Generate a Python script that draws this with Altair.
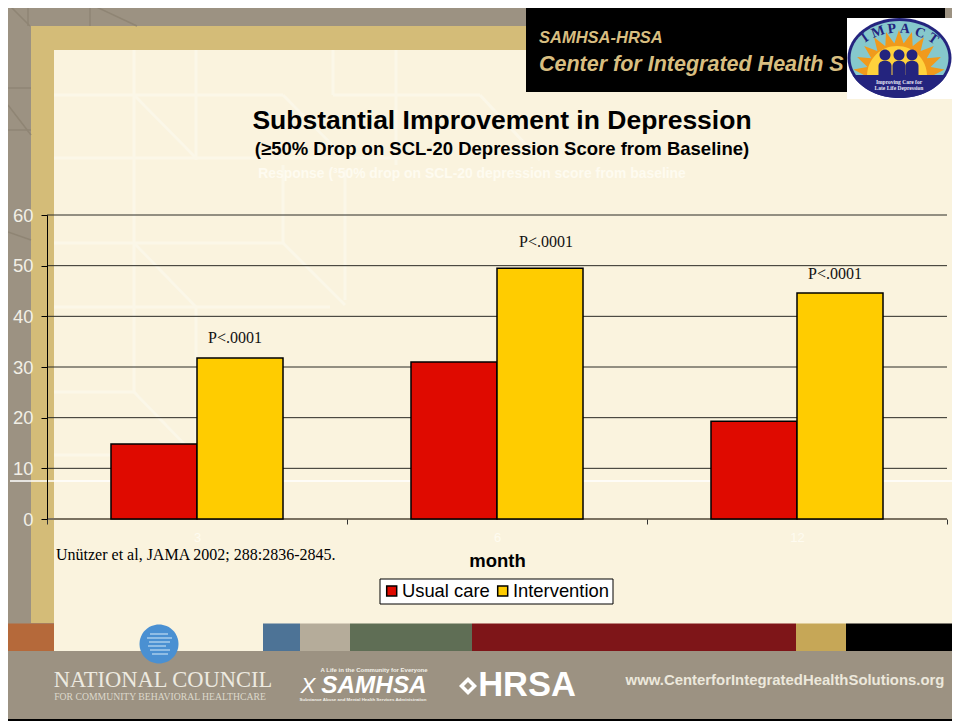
import math
import altair as alt
import pandas as pd

# ---- chart data ----
months = ["3", "6", "12"]
groups = ["Usual care", "Intervention"]
usual_care = [14.8, 31.0, 19.3]
intervention = [31.8, 49.5, 44.6]
p_labels = ["P<.0001", "P<.0001", "P<.0001"]
p_heights = [35.7, 54.7, 48.4]
p_shifts = [-5, 6, -5]
grid_values = [10, 20, 30, 40, 50, 60]
y_ticks = [0, 10, 20, 30, 40, 50, 60]

COLORS = ["#DF0A00", "#FFCC00"]
SANS = "Liberation Sans"
SERIF = "Liberation Serif"

# Plot origin on the page is (47, 215)
def px(x):
    return x - 47

def py(y):
    return y - 215

one = pd.DataFrame({"k": [0]})

def box(x0, y0, x1, y1, color, **kw):
    return alt.Chart(one).mark_rect(color=color, **kw).encode(
        x=alt.value(px(x0)), x2=alt.value(px(x1)),
        y=alt.value(py(y0)), y2=alt.value(py(y1)))

def seg(x0, y0, x1, y1, color, width=3.0, opacity=1.0):
    return alt.Chart(one).mark_rule(color=color, strokeWidth=width, opacity=opacity).encode(
        x=alt.value(px(x0)), x2=alt.value(px(x1)),
        y=alt.value(py(y0)), y2=alt.value(py(y1)))

def txt(s, x, y, size, color="black", font=SANS, bold=False, italic=False,
        align="center", angle=None, opacity=1.0):
    kw = {}
    if angle is not None:
        kw["angle"] = angle
    return alt.Chart(pd.DataFrame({"label": [s]})).mark_text(
        font=font, fontSize=size, color=color, align=align, baseline="middle",
        fontWeight="bold" if bold else "normal",
        fontStyle="italic" if italic else "normal", opacity=opacity, **kw
    ).encode(x=alt.value(px(x)), y=alt.value(py(y)), text="label:N")

def shape(path, x, y, r, color, **kw):
    return alt.Chart(one).mark_point(shape=path, filled=True, color=color, opacity=1,
                                     size=(2 * r) ** 2, **kw).encode(
        x=alt.value(px(x)), y=alt.value(py(y)))

TAUPE = "#9C9282"
TAN = "#D4BC78"
CREAM = "#FAF3DE"
LINE = "#FBF7E8"
DARKLINE = "#8F8574"
NAVY = "#24247E"
CIRCLE = "M-1,0 A1,1 0 1,1 1,0 A1,1 0 1,1 -1,0 Z"

decor = [
    box(0, 0, 960, 721, TAUPE),
    box(31, 26, 960, 623, TAN),
    box(54, 50, 960, 651, CREAM),
]
# faint architectural lines in the background
for s in [
    (134, 50, 134, 392), (196, 50, 196, 160), (333, 50, 333, 95), (396, 50, 396, 165),
    (54, 95, 283, 95), (333, 95, 480, 95), (54, 158, 400, 158),
    (283, 165, 283, 243), (345, 170, 345, 300), (196, 307, 196, 480),
    (54, 243, 283, 243), (54, 307, 330, 307), (54, 392, 135, 392), (54, 455, 110, 455),
    (134, 95, 196, 158), (283, 95, 345, 158), (480, 95, 540, 160),
    (134, 243, 196, 307), (283, 243, 345, 305), (134, 392, 190, 450),
]:
    decor.append(seg(*s, LINE))
for s in [
    (8, 4, 30, 26), (90, 4, 137, 26), (28, 4, 28, 26), (90, 4, 90, 26),
    (8, 88, 31, 88), (8, 130, 31, 130), (8, 105, 31, 135), (8, 232, 31, 240),
]:
    decor.append(seg(*s, DARKLINE, width=1.5))

# colour strip and footer
for x0, x1, c in [
    (8, 54, "#B5693A"), (263, 300, "#4D7396"), (300, 350, "#B5AC9A"),
    (350, 472, "#5F6E55"), (472, 796, "#7E1518"), (796, 846, "#C6A757"), (846, 960, "#000000"),
]:
    decor.append(box(x0, 623.5, x1, 651, c))
decor.append(box(54, 651, 960, 719, TAUPE))
decor.append(box(8, 651, 54, 719, TAUPE))
decor.append(box(0, 719, 960, 721, "#000000"))

# header panel
decor.append(box(526, 4, 945, 92, "#000000"))
decor.append(txt("SAMHSA-HRSA", 539, 38, 16.5, "#D8BE80", SANS, True, True, "left"))
decor.append(txt("Center for Integrated Health S", 539, 65, 21.5, "#D8BE80", SANS, True, True, "left"))

# IMPACT logo
ELL = "M-1,0 A1,0.77 0 1,1 1,0 A1,0.77 0 1,1 -1,0 Z"
BAND = "M-0.905,0.327 A1,0.77 0 0,0 0.905,0.327 Z"
rays = []
for i in range(11):
    a = math.radians(180 + 8 + i * 16.4)
    b0, b1 = a - math.radians(8), a + math.radians(8)
    rays += [(0.72 * math.cos(b0), 0.72 * math.sin(b0)),
             (math.cos(a), math.sin(a)),
             (0.72 * math.cos(b1), 0.72 * math.sin(b1))]
RAYS = "M" + " L".join(f"{x:.3f},{y:.3f}" for x, y in rays) + " Z"
HALF = "M-1,0 A1,1 0 0,1 1,0 Z"
decor += [
    box(847, 18, 952, 99, "#FFFFFF"),
    shape(ELL, 899.5, 58, 52, NAVY),
    shape("M-1,0 A1,0.755 0 1,1 1,0 A1,0.755 0 1,1 -1,0 Z", 899.5, 58, 49, "#86C8CC"),
    shape(RAYS, 899, 76, 46, "#F09A1C"),
    shape(HALF, 897, 76, 30, "#FFD23C"),
    shape(BAND, 899.5, 58, 52, NAVY),
]
for hx in [885, 899, 912]:
    decor.append(shape(CIRCLE, hx, 55, 5.5, NAVY))
    decor.append(box(hx - 6.5, 61, hx + 6.5, 76, NAVY, cornerRadiusTopLeft=5, cornerRadiusTopRight=5))
for ch, lx, ly, ang in [("I", 865, 38, 325), ("M", 878, 32, 340), ("P", 892, 29, 352),
                        ("A", 905, 29, 5), ("C", 920, 33, 18), ("T", 933, 39, 35)]:
    decor.append(txt(ch, lx, ly, 14, NAVY, SERIF, True, angle=ang))
decor.append(txt("Improving Care for", 899, 82, 5.5, "#E8E8F4", SERIF, True))
decor.append(txt("Late Life Depression", 899, 87.5, 5.5, "#E8E8F4", SERIF, True))

# footer logos
decor.append(shape(CIRCLE, 159, 644, 19.5, "#4A90D2"))
for sy, x0, x1 in [(634, 150, 168), (638, 147, 172), (642, 149, 170), (646, 148, 166),
                   (650, 150, 170), (654, 152, 168)]:
    decor.append(seg(x0, sy, x1, sy, "#BFDCF2", width=1.2))
decor += [
    txt("NATIONAL COUNCIL", 163, 680, 22.5, "#EDEAE0", SERIF),
    txt("FOR COMMUNITY BEHAVIORAL HEALTHCARE", 160, 697, 9.7, "#DDD9CC", SERIF),
    txt("X", 308, 686, 22, "#FFFFFF", SANS, False, True),
    txt("SAMHSA", 374, 686, 24.3, "#FFFFFF", SANS, True, True),
    txt("A Life in the Community for Everyone", 374, 670, 6, "#F2F0E8", SANS, True),
    txt("Substance Abuse and Mental Health Services Administration", 363, 700, 4.4, "#F2F0E8", SANS, True),
    shape("M0,-1 L1,0 L0,1 L-1,0 Z", 468, 686, 9, "#FFFFFF"),
    shape("M0,-1 L1,0 L0,1 L-1,0 Z", 468, 686, 4, TAUPE),
    txt("HRSA", 527, 686, 34.5, "#FFFFFF", SANS, True),
    txt("www.CenterforIntegratedHealthSolutions.org", 785, 681, 14.9, "#ECE8DC", SANS, True),
]

# titles and notes
decor += [
    txt("Substantial Improvement in Depression", 502, 121, 26.5, "black", SANS, True),
    txt("(\u226550% Drop on SCL-20 Depression Score from Baseline)", 502, 149, 18.5, "black", SANS, True),
    txt("Response  (\u00b350% drop on SCL-20 depression score from baseline", 472, 174, 13.9, "#FEFBF0", SANS, True),
    txt("Un\u00fctzer et al, JAMA 2002; 288:2836-2845.", 56, 555, 16, "black", SERIF, False, False, "left"),
]

# gridlines (behind the bars)
grid = alt.Chart(pd.DataFrame({"v": grid_values})).mark_rule(color="#2A2A24", strokeWidth=1).encode(
    y=alt.Y("v:Q", scale=alt.Scale(domain=[0, 60], nice=False)))
base_line = alt.Chart(pd.DataFrame({"v": [0]})).mark_rule(color="#7A7160", strokeWidth=2).encode(
    y=alt.Y("v:Q", scale=alt.Scale(domain=[0, 60], nice=False)))
white_line = seg(10, 481, 960, 481, "#FFFFFF", width=1.5)

# bars
rows = []
for m, u, t in zip(months, usual_care, intervention):
    rows.append({"month": m, "group": groups[0], "value": u})
    rows.append({"month": m, "group": groups[1], "value": t})
bars_df = pd.DataFrame(rows)

x_enc = alt.X("month:N", sort=months,
              scale=alt.Scale(domain=months, paddingInner=0, paddingOuter=0),
              axis=alt.Axis(title="month", labelAngle=0, domain=False, tickBand="extent",
                            tickColor="#333333", tickSize=5, labelColor="#FEFBF0",
                            labelFont=SANS, labelFontSize=13, labelPadding=7,
                            titleFont=SANS, titleFontSize=18.5, titleFontWeight="bold",
                            titleColor="black", titlePadding=7, zindex=1))
off_enc = alt.XOffset("group:N", sort=groups,
                      scale=alt.Scale(domain=groups, paddingInner=0, paddingOuter=0.744))
y_enc = alt.Y("value:Q", scale=alt.Scale(domain=[0, 60], nice=False),
              axis=alt.Axis(title=None, values=y_ticks, grid=False, domainColor="black",
                            tickColor="black", tickSize=6, labelColor="#F2EFE6",
                            labelFont=SANS, labelFontSize=18.5, labelPadding=8, zindex=1))

bars = alt.Chart(bars_df).mark_bar(stroke="black", strokeWidth=1.5).encode(
    x=x_enc, xOffset=off_enc, y=y_enc,
    color=alt.Color("group:N", sort=groups,
                    scale=alt.Scale(domain=groups, range=COLORS),
                    legend=alt.Legend(title=None, orient="none", legendX=px(379.5), legendY=py(578.5),
                                      direction="horizontal", columns=2, fillColor="white",
                                      strokeColor="black", padding=3, symbolType="square",
                                      symbolSize=100, symbolStrokeColor="black",
                                      symbolStrokeWidth=1.5, symbolOpacity=1,
                                      labelFont=SANS, labelFontSize=18.4, labelColor="black",
                                      labelOffset=1, columnPadding=3, symbolOffset=0)))

p_layers = []
for m, lab, h, dx in zip(months, p_labels, p_heights, p_shifts):
    df = pd.DataFrame({"month": [m], "group": [groups[1]], "label": [lab], "h": [h]})
    p_layers.append(alt.Chart(df).mark_text(font=SERIF, fontSize=16, color="#111111", dx=dx).encode(
        x=alt.X("month:N", sort=months), xOffset=alt.XOffset("group:N", sort=groups),
        y=alt.Y("h:Q"), text="label:N"))

chart = alt.layer(*decor, grid, white_line, base_line, bars, *p_layers).properties(
    width=900, height=304,
    padding={"left": 39, "top": 207, "right": 5, "bottom": 202},
    autosize=alt.AutoSizeParams(type="none"),
).configure_view(stroke=None)

chart.save("out.html", embed_options={"renderer": "svg", "actions": False})
